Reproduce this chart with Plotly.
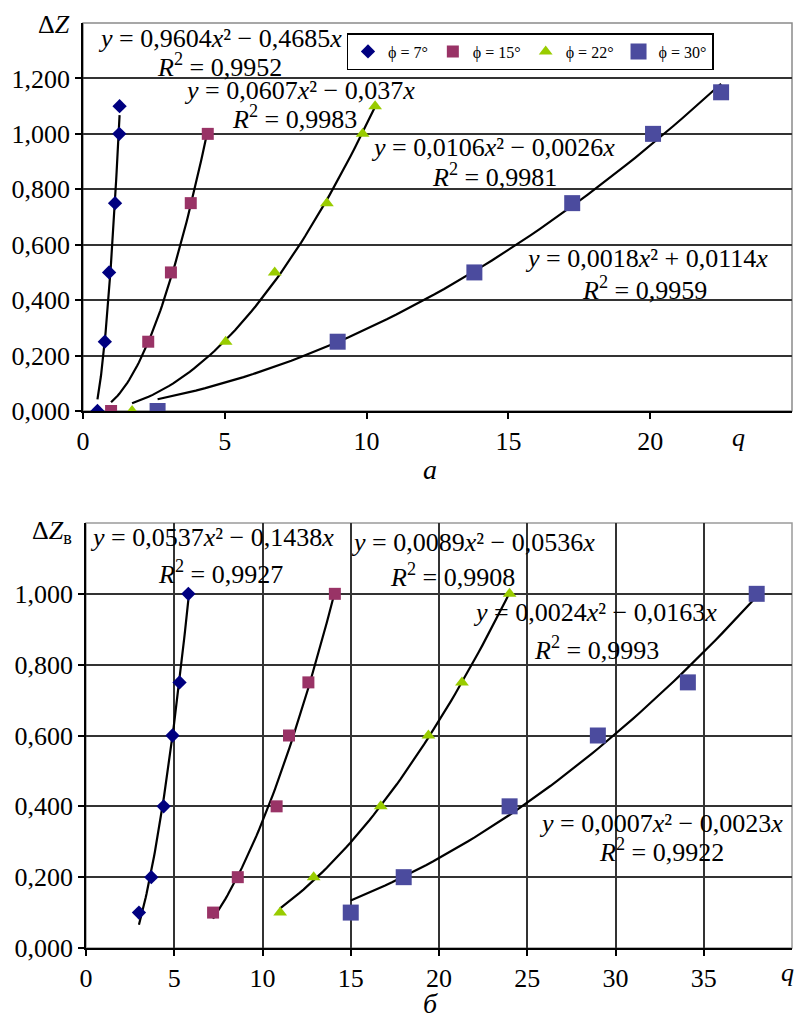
import numpy as np
import plotly.graph_objects as go

# ---------------- data ----------------
series_names = ["ϕ = 7°", "ϕ = 15°", "ϕ = 22°", "ϕ = 30°"]
colors = ["#000080", "#993366", "#99CC00", "#4B4B9E"]
symbols = ["diamond", "square", "triangle-up", "square"]
sizes = [11, 12, 12, 16]

# chart (a): ΔZ vs q
a_q_7 = [0.51, 0.77, 0.92, 1.13, 1.28, 1.29]
a_dz_7 = [0.0, 0.25, 0.5, 0.75, 1.0, 1.1]
a_q_15 = [0.99, 2.3, 3.1, 3.8, 4.4]
a_dz_15 = [0.0, 0.25, 0.5, 0.75, 1.0]
a_q_22 = [1.73, 5.03, 6.76, 8.6, 9.86, 10.3]
a_dz_22 = [0.0, 0.25, 0.5, 0.75, 1.0, 1.1]
a_q_30 = [2.63, 8.98, 13.8, 17.25, 20.1, 22.5]
a_dz_30 = [0.0, 0.25, 0.5, 0.75, 1.0, 1.15]

# chart (б): ΔZв vs q
b_q_7 = [3.0, 3.7, 4.4, 4.9, 5.3, 5.8]
b_dz_7 = [0.1, 0.2, 0.4, 0.6, 0.75, 1.0]
b_q_15 = [7.2, 8.6, 10.8, 11.5, 12.6, 14.1]
b_dz_15 = [0.1, 0.2, 0.4, 0.6, 0.75, 1.0]
b_q_22 = [11.0, 12.9, 16.7, 19.4, 21.3, 24.0]
b_dz_22 = [0.1, 0.2, 0.4, 0.6, 0.75, 1.0]
b_q_30 = [15.0, 18.0, 24.0, 29.0, 34.1, 38.0]
b_dz_30 = [0.1, 0.2, 0.4, 0.6, 0.75, 1.0]

a_eq = ["<i>y</i> = 0,9604<i>x</i>² − 0,4685<i>x</i>",
        "<i>y</i> = 0,0607<i>x</i>² − 0,037<i>x</i>",
        "<i>y</i> = 0,0106<i>x</i>² − 0,0026<i>x</i>",
        "<i>y</i> = 0,0018<i>x</i>² + 0,0114<i>x</i>"]
a_r2 = ["<i>R</i><sup>2</sup> = 0,9952", "<i>R</i><sup>2</sup> = 0,9983",
        "<i>R</i><sup>2</sup> = 0,9981", "<i>R</i><sup>2</sup> = 0,9959"]
b_eq = ["<i>y</i> = 0,0537<i>x</i>² − 0,1438<i>x</i>",
        "<i>y</i> = 0,0089<i>x</i>² − 0,0536<i>x</i>",
        "<i>y</i> = 0,0024<i>x</i>² − 0,0163<i>x</i>",
        "<i>y</i> = 0,0007<i>x</i>² − 0,0023<i>x</i>"]
b_r2 = ["<i>R</i><sup>2</sup> = 0,9927", "<i>R</i><sup>2</sup> = 0,9908",
        "<i>R</i><sup>2</sup> = 0,9993", "<i>R</i><sup>2</sup> = 0,9922"]

# label anchor positions (data coordinates)
a_eq_pos = [(4.82, 1.344), (7.65, 1.157), (14.47, 0.951), (19.86, 0.551)]
a_r2_pos = [(4.82, 1.247), (7.46, 1.059), (14.5, 0.850), (19.8, 0.443)]
b_eq_pos = [(7.14, 1.158), (21.9, 1.144), (28.86, 0.946), (32.6, 0.352)]
b_r2_pos = [(7.6, 1.059), (20.75, 1.051), (28.9, 0.845), (32.6, 0.276)]

a_yticks = [0.0, 0.2, 0.4, 0.6, 0.8, 1.0, 1.2]
a_ytext = ["0,000", "0,200", "0,400", "0,600", "0,800", "1,000", "1,200"]
a_xticks = [0, 5, 10, 15, 20]
b_yticks = [0.0, 0.2, 0.4, 0.6, 0.8, 1.0]
b_ytext = ["0,000", "0,200", "0,400", "0,600", "0,800", "1,000"]
b_xticks = [0, 5, 10, 15, 20, 25, 30, 35]

FONT = "Liberation Serif"
FS = 26

a_sets = [(a_q_7, a_dz_7), (a_q_15, a_dz_15), (a_q_22, a_dz_22), (a_q_30, a_dz_30)]
b_sets = [(b_q_7, b_dz_7), (b_q_15, b_dz_15), (b_q_22, b_dz_22), (b_q_30, b_dz_30)]


def fit_curve(xs, ys):
    """Least-squares y = a*x^2 + b*x through origin (as the chart's trendline)."""
    x = np.asarray(xs, float)
    y = np.asarray(ys, float)
    A = np.column_stack([x ** 2, x])
    coef, *_ = np.linalg.lstsq(A, y, rcond=None)
    xx = np.linspace(x.min(), x.max(), 60)
    return xx, coef[0] * xx ** 2 + coef[1] * xx


fig = go.Figure()

for k, (sets, xa, ya, show) in enumerate([(a_sets, "x", "y", True), (b_sets, "x2", "y2", False)]):
    for i, (xs, ys) in enumerate(sets):
        xx, yy = fit_curve(xs, ys)
        fig.add_trace(go.Scatter(x=xx, y=yy, mode="lines", xaxis=xa, yaxis=ya,
                                 line=dict(color="black", width=2.2),
                                 showlegend=False, hoverinfo="skip"))
    for i, (xs, ys) in enumerate(sets):
        fig.add_trace(go.Scatter(x=xs, y=ys, mode="markers", xaxis=xa, yaxis=ya,
                                 name=series_names[i], showlegend=show,
                                 marker=dict(symbol=symbols[i], color=colors[i],
                                             size=sizes[i], line=dict(width=0))))

annotations = []
for texts, pos, xr, yr in [(a_eq, a_eq_pos, "x", "y"), (a_r2, a_r2_pos, "x", "y"),
                           (b_eq, b_eq_pos, "x2", "y2"), (b_r2, b_r2_pos, "x2", "y2")]:
    for t, (px, py) in zip(texts, pos):
        annotations.append(dict(text=t, x=px, y=py, xref=xr, yref=yr, showarrow=False,
                                xanchor="center", yanchor="middle",
                                font=dict(family=FONT, size=FS, color="black")))

W, H = 797, 1020
def P(px, py):
    return px / W, 1 - py / H

extra = [
    ("Δ<i>Z</i>", 54, 24, FS),
    ("Δ<i>Z</i><sub>в</sub>", 52, 532, FS),
    ("<i>q</i>", 738, 437, FS),
    ("<i>q</i>", 787, 972, FS),
    ("<i>а</i>", 430, 470, 28),
    ("<i>б</i>", 430, 1003, 28),
]
for t, px, py, fs in extra:
    x, y = P(px, py)
    annotations.append(dict(text=t, x=x, y=y, xref="paper", yref="paper", showarrow=False,
                            xanchor="center", yanchor="middle",
                            font=dict(family=FONT, size=fs, color="black")))

axis_common = dict(showline=True, linecolor="black", linewidth=1.5, ticks="outside",
                   ticklen=6, tickwidth=1.5, tickcolor="black", zeroline=False,
                   automargin=False, tickfont=dict(family=FONT, size=FS, color="black"),
                   gridcolor="#333333", gridwidth=1.6)

fig.update_layout(
    width=W, height=H, margin=dict(l=0, r=0, t=0, b=0),
    paper_bgcolor="white", plot_bgcolor="white",
    font=dict(family=FONT, color="black"),
    xaxis=dict(axis_common, domain=[83 / W, 792 / W], range=[0, 25], anchor="y",
               tickvals=a_xticks, showgrid=False),
    yaxis=dict(axis_common, domain=[1 - 411 / H, 1 - 23 / H], range=[0, 1.4], anchor="x",
               tickvals=a_yticks, ticktext=a_ytext, showgrid=True),
    xaxis2=dict(axis_common, domain=[86 / W, 792 / W], range=[0, 40], anchor="y2",
                tickvals=b_xticks, showgrid=True),
    yaxis2=dict(axis_common, domain=[1 - 948 / H, 1 - 523 / H], range=[0, 1.2], anchor="x2",
                tickvals=b_yticks, ticktext=b_ytext, showgrid=True),
    legend=dict(orientation="h", x=530 / W, y=1 - 33 / H, xanchor="center", yanchor="top",
                bgcolor="white", bordercolor="black", borderwidth=1.5,
                font=dict(family=FONT, size=16, color="black"),
                itemwidth=30, tracegroupgap=0),
    annotations=annotations,
    shapes=[
        dict(type="rect", xref="x domain", yref="y domain", x0=0, x1=1, y0=0, y1=1,
             line=dict(color="#8a8a8a", width=1.5), layer="below"),
        dict(type="rect", xref="x2 domain", yref="y2 domain", x0=0, x1=1, y0=0, y1=1,
             line=dict(color="#9a9a9a", width=1.5), layer="below"),
    ],
)

fig.write_html("out.html", config={"displayModeBar": False},
               post_script="document.body.style.margin='0';")
